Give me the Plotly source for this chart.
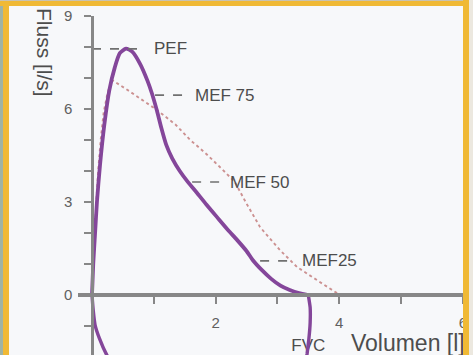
import plotly.graph_objects as go

W, H = 473, 355

# measured expiratory flow-volume curve (Volumen [l], Fluss [l/s])
vol_meas = [0, 0.02, 0.05, 0.08, 0.13, 0.2, 0.28, 0.37, 0.45, 0.55, 0.65, 0.78, 0.9, 0.97,
            1.05, 1.12, 1.2, 1.3, 1.42, 1.55, 1.7, 1.85, 2.02, 2.2, 2.35, 2.5, 2.6, 2.75,
            2.9, 3.05, 3.2, 3.35, 3.5]
flow_meas = [0, 1.0, 2.0, 3.0, 4.2, 5.5, 6.6, 7.35, 7.8, 7.95, 7.85, 7.45, 6.9, 6.5,
             5.95, 5.4, 4.85, 4.4, 4.0, 3.65, 3.29, 2.92, 2.52, 2.1, 1.77, 1.42, 1.13, 0.8,
             0.52, 0.3, 0.16, 0.06, 0.0]

# measured inspiratory part (below zero)
vol_insp_end = [3.5, 3.53, 3.53, 3.51, 3.48, 3.45]
flow_insp_end = [0, -0.4, -0.9, -1.4, -1.9, -2.3]
vol_insp_start = [0.35, 0.24, 0.12, 0.05, 0.02, 0]
flow_insp_start = [-2.3, -1.94, -1.4, -0.97, -0.5, 0]

# predicted (reference) curve
vol_pred = [0, 0.02, 0.04, 0.07, 0.1, 0.14, 0.19, 0.25, 0.32, 0.6, 1.05, 1.35, 1.59, 1.85,
            2.12, 2.31, 2.5, 2.72, 3.04, 3.32, 3.64, 4.01]
flow_pred = [0, 1.0, 2.0, 3.0, 4.0, 5.0, 5.9, 6.5, 6.94, 6.58, 5.97, 5.5, 5.0, 4.55,
             4.03, 3.65, 2.95, 2.19, 1.45, 0.9, 0.48, 0.0]

# marker labels
marker_names = ["PEF", "MEF 75", "MEF 50", "MEF25"]
marker_flow = [7.94, 6.45, 3.645, 1.10]
marker_x0 = [0.0, 1.02, 1.62, 2.72]
marker_x1 = [0.825, 1.553, 2.10, 3.20]
marker_text_x = [0.97, 1.634, 2.20, 3.366]

fvc_label = "FVC"
fvc_pos = (3.50, -1.68)
x_title = "Volumen [l]"
x_title_pos = (4.19, -1.61)
y_title = "Fluss [l/s]"

x_tickvals = [0, 1, 2, 3, 4, 5, 6]
x_ticktext = ["", "", "2", "", "4", "", "6"]
y_tickvals = [-1, 0, 1, 2, 3, 4, 5, 6, 7, 8, 9]
y_ticktext = [str(v) if v % 3 == 0 and v >= 0 else "" for v in y_tickvals]

PXU_X = 61.8
PXU_Y = 31.0
X0_PX, Y0_PX = 92, 295

FONT = "Liberation Sans, Arial"
TXT = "#4d4d4d"

fig = go.Figure()

# FVC label (below the curve)
fig.add_trace(go.Scatter(x=[fvc_pos[0]], y=[fvc_pos[1]], mode="text", text=[fvc_label],
                         textposition="middle center",
                         textfont=dict(family=FONT, size=17, color=TXT),
                         hoverinfo="skip", showlegend=False))

fig.add_trace(go.Scatter(x=vol_pred, y=flow_pred, mode="lines",
                         line=dict(color="#cc9191", width=1.9, dash="dot"),
                         showlegend=False))

fig.add_trace(go.Scatter(x=vol_meas, y=flow_meas, mode="lines",
                         line=dict(color="#84469a", width=3.8, shape="spline", smoothing=0.6),
                         showlegend=False))
fig.add_trace(go.Scatter(x=vol_insp_end, y=flow_insp_end, mode="lines",
                         line=dict(color="#84469a", width=3.4, shape="spline", smoothing=0.4),
                         showlegend=False))
fig.add_trace(go.Scatter(x=vol_insp_start, y=flow_insp_start, mode="lines",
                         line=dict(color="#84469a", width=3.4, shape="spline", smoothing=0.6),
                         showlegend=False))

lx, ly = [], []
for a, b, f in zip(marker_x0, marker_x1, marker_flow):
    lx += [a, b, None]
    ly += [f, f, None]
fig.add_trace(go.Scatter(x=lx, y=ly, mode="lines",
                         line=dict(color="#707070", width=1.7, dash="dash"),
                         showlegend=False))

fig.add_trace(go.Scatter(x=[x_title_pos[0]], y=[x_title_pos[1]], mode="text", text=[x_title],
                         textposition="middle right",
                         textfont=dict(family=FONT, size=23, color=TXT),
                         hoverinfo="skip", showlegend=False))

for name, f, tx in zip(marker_names, marker_flow, marker_text_x):
    fig.add_annotation(x=tx, y=f, text=name, showarrow=False, xanchor="left", yanchor="middle",
                       font=dict(family=FONT, size=17, color=TXT))

fig.add_annotation(xref="paper", yref="paper", x=45 / W, y=(H - 52) / H, text=y_title,
                   textangle=90, showarrow=False, xanchor="center", yanchor="middle",
                   font=dict(family=FONT, size=21, color=TXT))

axis_col = "#878787"
fig.update_layout(
    width=W, height=H,
    margin=dict(l=0, r=0, t=0, b=0),
    paper_bgcolor="#f7f8fa", plot_bgcolor="#f7f8fa",
    showlegend=False,
    xaxis=dict(domain=[78 / W, 1], range=[(78 - X0_PX) / PXU_X, (W - X0_PX) / PXU_X],
               anchor="free", position=(H - Y0_PX) / H,
               showline=True, linecolor=axis_col, linewidth=3.5,
               ticks="outside", ticklen=7, tickwidth=2, tickcolor=axis_col,
               tickvals=x_tickvals, ticktext=x_ticktext, ticklabelstandoff=6,
               tickfont=dict(family=FONT, size=15, color="#606060"),
               showgrid=False, zeroline=False, automargin=False),
    yaxis=dict(domain=[0, (H - 16) / H], range=[-(H - Y0_PX) / PXU_Y, 9],
               anchor="free", position=X0_PX / W,
               showline=True, linecolor=axis_col, linewidth=2.5,
               ticks="outside", ticklen=7, tickwidth=2, tickcolor=axis_col,
               tickvals=y_tickvals, ticktext=y_ticktext, ticklabelstandoff=9,
               tickfont=dict(family=FONT, size=15, color="#606060"),
               showgrid=False, zeroline=False, automargin=False),
)

# photo frame
orange = "#f0b935"
frame = [
    (0, 3, 0, H, "#9fb3a4"),
    (3, 9, 0, H, orange),
    (0, W, 0, 6, orange),
    (0, W, 0, 1, "#c9c2b0"),
    (463, 469, 0, H, orange),
    (469, W, 0, H, "#ece8df"),
]
for x0, x1, y0, y1, c in frame:
    fig.add_shape(type="rect", xref="paper", yref="paper",
                  x0=x0 / W, x1=x1 / W, y0=1 - y1 / H, y1=1 - y0 / H,
                  fillcolor=c, line=dict(width=0), layer="above")

fig.write_html("out.html")
